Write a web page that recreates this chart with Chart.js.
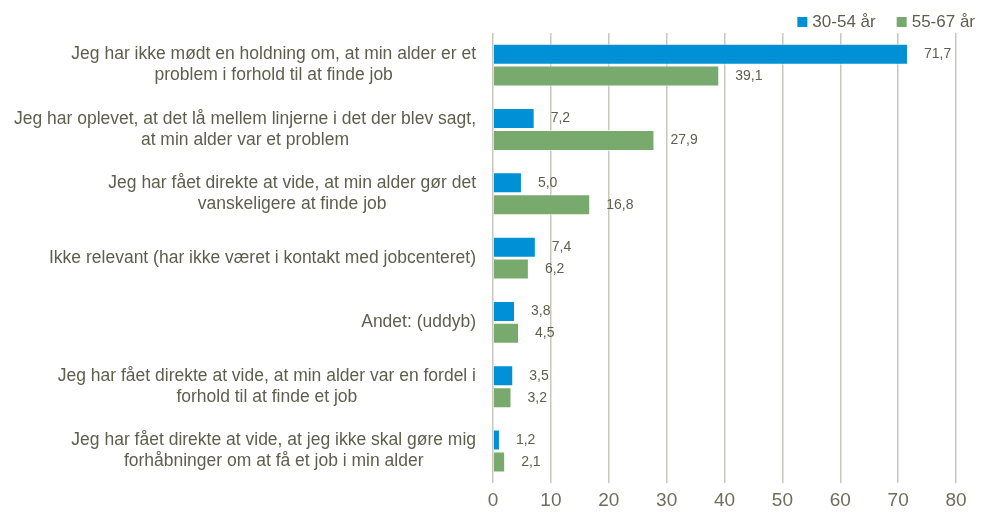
<!DOCTYPE html>
<html>
<head>
<meta charset="utf-8">
<script src="https://cdn.jsdelivr.net/npm/chart.js@4"></script>
<style>
  html, body { margin: 0; padding: 0; background: #fff; }
  #wrap { width: 985px; height: 518px; }
</style>
</head>
<body>
<div id="wrap"><canvas id="alder"></canvas></div>
<script>
// kategorier (y-aksen)
const kategorier = [
    ['Jeg har ikke mødt en holdning om, at min alder er et', 'problem i forhold til at finde job'],
    ['Jeg har oplevet, at det lå mellem linjerne i det der blev sagt,', 'at min alder var et problem'],
    ['Jeg har fået direkte at vide, at min alder gør det', 'vanskeligere at finde job'],
    ['Ikke relevant (har ikke været i kontakt med jobcenteret)'],
    ['Andet: (uddyb)'],
    ['Jeg har fået direkte at vide, at min alder var en fordel i', 'forhold til at finde et job'],
    ['Jeg har fået direkte at vide, at jeg ikke skal gøre mig', 'forhåbninger om at få et job i min alder']
];
const serieNavne = ['30-54 år', '55-67 år'];
const ung = [71.7, 7.2, 5.0, 7.4, 3.8, 3.5, 1.2];
const aeldre = [39.1, 27.9, 16.8, 6.2, 4.5, 3.2, 2.1];
const xMin = 0, xMax = 80, xStep = 10;

const FONT = "'Liberation Sans', Arial, sans-serif";
const tekstFarve = '#5e5e4e';

// tegner kategoritekster: blok højrestillet, linjer centreret i blokken
const kategoriTekst = {
    id: 'kategoriTekst',
    afterDraw(chart) {
        const ctx = chart.ctx;
        const y = chart.scales.y;
        const hoejre = chart.chartArea.left - 17;
        const linjeH = 21;
        ctx.save();
        ctx.font = '17.5px ' + FONT;
        ctx.fillStyle = tekstFarve;
        ctx.textAlign = 'center';
        ctx.textBaseline = 'middle';
        kategorier.forEach((linjer, i) => {
            const midt = y.getPixelForValue(i);
            let bredde = 0;
            linjer.forEach(l => { bredde = Math.max(bredde, ctx.measureText(l).width); });
            const cx = hoejre - bredde / 2;
            const start = midt - (linjer.length - 1) * linjeH / 2;
            linjer.forEach((l, j) => ctx.fillText(l, cx, start + j * linjeH));
        });
        ctx.restore();
    }
};

// værdier til højre for søjlerne
const vaerdiTekst = {
    id: 'vaerdiTekst',
    afterDatasetsDraw(chart) {
        const ctx = chart.ctx;
        ctx.save();
        ctx.font = '14px ' + FONT;
        ctx.fillStyle = tekstFarve;
        ctx.textAlign = 'left';
        ctx.textBaseline = 'middle';
        chart.data.datasets.forEach((ds, d) => {
            chart.getDatasetMeta(d).data.forEach((bar, i) => {
                ctx.fillText(ds.data[i].toFixed(1).replace('.', ','), bar.x + 16, bar.y);
            });
        });
        ctx.restore();
    }
};

// forklaring øverst til højre (egen tegning, tættere end den indbyggede)
const forklaring = {
    id: 'forklaring',
    afterDraw(chart) {
        const ctx = chart.ctx;
        const midtY = 22;
        ctx.save();
        ctx.font = '17px ' + FONT;
        ctx.textBaseline = 'middle';
        ctx.textAlign = 'left';
        let x = 975;
        const ds = chart.data.datasets.slice().reverse();
        ds.forEach(d => {
            const w = ctx.measureText(d.label).width;
            x -= w;
            ctx.fillStyle = tekstFarve;
            ctx.fillText(d.label, x, midtY);
            x -= 15;
            ctx.fillStyle = d.backgroundColor;
            ctx.fillRect(x, midtY - 5, 10, 10);
            x -= 21;
        });
        ctx.restore();
    }
};

new Chart(document.getElementById('alder'), {
    type: 'bar',
    data: {
        labels: kategorier,
        datasets: [{
            label: serieNavne[0],
            data: ung,
            backgroundColor: '#0090d5',
            borderColor: 'rgba(255,255,255,0.7)',
            borderWidth: 1,
            barPercentage: 0.96,
            categoryPercentage: 0.68
        }, {
            label: serieNavne[1],
            data: aeldre,
            backgroundColor: '#78aa6e',
            borderColor: 'rgba(255,255,255,0.7)',
            borderWidth: 1,
            barPercentage: 0.96,
            categoryPercentage: 0.68
        }]
    },
    options: {
        indexAxis: 'y',
        responsive: true,
        maintainAspectRatio: false,
        animation: false,
        layout: { padding: { left: 0, right: 4, top: 33, bottom: 0 } },
        plugins: {
            legend: { display: false },
            tooltip: { enabled: false }
        },
        scales: {
            x: {
                min: xMin,
                max: xMax,
                ticks: {
                    stepSize: xStep,
                    color: '#6e6e5e',
                    padding: 6,
                    font: { family: FONT, size: 19 }
                },
                grid: { color: '#c9c6bd', lineWidth: 1.5, drawTicks: false },
                border: { display: false },
                afterFit: s => { s.paddingRight = 29; }
            },
            y: {
                ticks: { display: false },
                grid: { display: false },
                border: { display: false },
                afterFit: s => { s.width = 493; }
            }
        }
    },
    plugins: [kategoriTekst, vaerdiTekst, forklaring]
});
</script>
</body>
</html>
